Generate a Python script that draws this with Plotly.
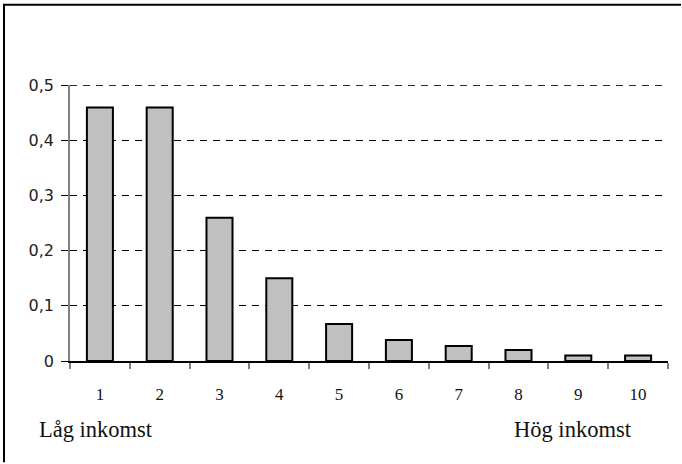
import plotly.graph_objects as go

categories = ["1", "2", "3", "4", "5", "6", "7", "8", "9", "10"]
values = [0.46, 0.46, 0.26, 0.15, 0.067, 0.038, 0.027, 0.02, 0.01, 0.01]
y_tickvals = [0, 0.1, 0.2, 0.3, 0.4, 0.5]
y_ticktext = ["0", "0,1", "0,2", "0,3", "0,4", "0,5"]
low_label = "Låg inkomst"
high_label = "Hög inkomst"

W, H = 682, 464
L, R, T, B = 70, 14, 85, 102.5
pw, ph = W - L - R, H - T - B
y_range = [0, 0.5006]

def px_x(x):
    return (x - L) / pw

def px_y(y):
    return (H - B - y) / ph

fig = go.Figure(go.Bar(
    x=categories, y=values,
    marker=dict(color="#C0C0C0", line=dict(color="black", width=2)),
))

border_path = "M {:.5f},{:.5f} L {:.5f},{:.5f} L {:.5f},{:.5f}".format(
    px_x(4), px_y(463), px_x(4), px_y(4.5), px_x(681), px_y(4.5))

fig.update_layout(
    width=W, height=H,
    margin=dict(l=L, r=R, t=T, b=B),
    paper_bgcolor="white", plot_bgcolor="white",
    bargap=0.565,
    showlegend=False,
    xaxis=dict(
        type="category",
        tickson="boundaries",
        ticks="outside", ticklen=6, tickcolor="#808080", tickwidth=1.5,
        showline=True, linecolor="black", linewidth=1.5,
        showgrid=False,
        tickfont=dict(family="Liberation Serif", size=17, color="#111"),
        ticklabelstandoff=17,
    ),
    yaxis=dict(
        range=y_range,
        tickvals=y_tickvals, ticktext=y_ticktext,
        ticks="outside", ticklen=7, tickcolor="black", tickwidth=1,
        showline=True, linecolor="#808080", linewidth=1.5,
        showgrid=True, gridcolor="black", gridwidth=1, griddash="7px,6px",
        zeroline=False,
        tickfont=dict(family="DejaVu Sans", size=16, color="#222"),
        ticklabelstandoff=4,
    ),
    yaxis2=dict(
        overlaying="y", side="left", range=y_range,
        tickvals=y_tickvals, showticklabels=False,
        ticks="inside", ticklen=7, tickcolor="black", tickwidth=1,
        showline=False, showgrid=False, zeroline=False,
    ),
    shapes=[
        dict(type="line", xref="paper", yref="y",
             x0=0, x1=1, y0=y_tickvals[-1], y1=y_tickvals[-1], layer="below",
             line=dict(color="black", width=1, dash="7px,6px")),
        dict(type="path", xref="paper", yref="paper", layer="above",
             path=border_path, line=dict(color="black", width=2)),
    ],
    annotations=[
        dict(text=low_label, xref="paper", yref="paper",
             x=px_x(95.5), y=px_y(430.5), showarrow=False,
             xanchor="center", yanchor="middle",
             font=dict(family="Liberation Serif", size=22.5, color="#111")),
        dict(text=high_label, xref="paper", yref="paper",
             x=px_x(572.5), y=px_y(430.5), showarrow=False,
             xanchor="center", yanchor="middle",
             font=dict(family="Liberation Serif", size=22.5, color="#111")),
    ],
)

fig.write_html("out.html", config={"displayModeBar": False},
               post_script="document.body.style.margin='0px';document.body.style.overflow='hidden';")
